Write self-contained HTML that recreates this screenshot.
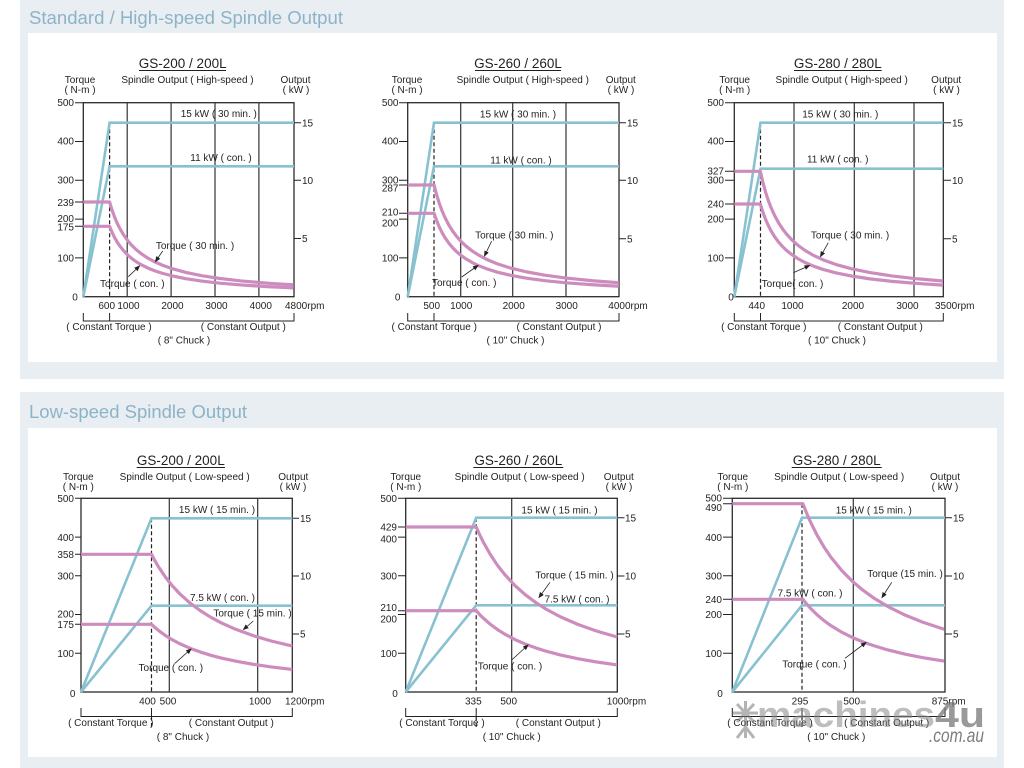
<!DOCTYPE html>
<html><head><meta charset="utf-8"><title>Spindle Output</title>
<style>
html,body{margin:0;padding:0;background:#fff;}
svg{display:block}
text{font-family:"Liberation Sans",Arial,sans-serif;font-size:10px;fill:#231f20}
.m{text-anchor:middle}.e{text-anchor:end}
.t{font-size:13.5px}
.hd{font-size:18.7px;fill:#8db3c8}
.fr{fill:none;stroke:#2b2b2b;stroke-width:1.3}
.gr{stroke:#333;stroke-width:1.2;fill:none}
.ds{stroke:#222;stroke-width:1.2;stroke-dasharray:4 2.5;fill:none}
.bl{stroke:#88c2d0;stroke-width:2.6;fill:none;stroke-linejoin:miter}
.pk{stroke:#cd8cbe;stroke-width:3.2;fill:none;vector-effect:non-scaling-stroke;stroke-linejoin:round}
.ar{stroke:#222;stroke-width:0.8;marker-end:url(#a)}
.tk{stroke:#222;stroke-width:1;fill:none}
.ul{stroke:#231f20;stroke-width:1}
</style></head><body>
<svg width="1024" height="768" viewBox="0 0 1024 768" xmlns="http://www.w3.org/2000/svg">
<defs>
<marker id="a" markerWidth="6" markerHeight="6" refX="5" refY="3" orient="auto" markerUnits="userSpaceOnUse"><path d="M0,0.6 L6,3 L0,5.4z" fill="#222"/></marker>
</defs>
<!-- panels -->
<rect x="20" y="0" width="984" height="379" fill="#e8eef2"/>
<rect x="28" y="33" width="969" height="329" fill="#fff"/>
<rect x="20" y="392" width="984" height="376" fill="#e8eef2"/>
<rect x="28" y="428" width="969" height="329" fill="#fff"/>
<text x="29" y="24" class="hd" textLength="314" lengthAdjust="spacingAndGlyphs">Standard / High-speed Spindle Output</text>
<text x="29" y="418" class="hd" textLength="218" lengthAdjust="spacingAndGlyphs">Low-speed Spindle Output</text>

<!-- ========== CHART 1 ========== -->
<g>
<rect x="83.3" y="102.7" width="210.7" height="194" class="fr"/>
<path class="gr" d="M127.2,102.7V296.7M171.1,102.7V296.7M215,102.7V296.7M258.9,102.7V296.7"/>
<path class="ds" d="M109.6,122.7V296.7"/>
<path class="tk" d="M75,102.7H83.3M75,141.5H83.3M75,180.3H83.3M75,202H83.3M75,219.1H83.3M75,226.3H83.3M75,257.9H83.3M294,122.7H301M294,180.3H301M294,238.5H301"/>
<polyline class="bl" points="83.3,296.7 109.6,122.7 294,122.7"/>
<polyline class="bl" points="83.3,296.7 109.6,166.3 294,166.3"/>
<path class="pk" transform="translate(83.3,296.7) scale(26.3,94.7)" d="M0,-1 L1,-1 L1.05,-0.9524 L1.1,-0.9091 L1.2,-0.8333 L1.3,-0.7692 L1.4,-0.7143 L1.55,-0.6452 L1.7,-0.5882 L1.85,-0.5405 L2,-0.5 L2.2,-0.4545 L2.45,-0.4082 L2.7,-0.3704 L3,-0.3333 L3.4,-0.2941 L3.9,-0.2564 L4.5,-0.2222 L5.2,-0.1923 L6,-0.1667 L7,-0.1429 L8,-0.125"/>
<path class="pk" transform="translate(83.3,296.7) scale(26.3,70.4)" d="M0,-1 L1,-1 L1.05,-0.9524 L1.1,-0.9091 L1.2,-0.8333 L1.3,-0.7692 L1.4,-0.7143 L1.55,-0.6452 L1.7,-0.5882 L1.85,-0.5405 L2,-0.5 L2.2,-0.4545 L2.45,-0.4082 L2.7,-0.3704 L3,-0.3333 L3.4,-0.2941 L3.9,-0.2564 L4.5,-0.2222 L5.2,-0.1923 L6,-0.1667 L7,-0.1429 L8,-0.125"/>
<line class="ar" x1="162.7" y1="251" x2="155.5" y2="261.5"/>
<line class="ar" x1="128.3" y1="276.7" x2="139.5" y2="266"/>
<path class="tk" d="M83.3,313V321H294V313M109.6,313V321"/>
<text x="182.7" y="68" class="t m">GS-200 / 200L</text>
<line class="ul" x1="139" y1="70.5" x2="226" y2="70.5"/>
<text x="80" y="83" class="m">Torque</text><text x="80" y="93" class="m">( N-m )</text>
<text x="187.5" y="83" class="m">Spindle Output ( High-speed )</text>
<text x="295.5" y="83" class="m">Output</text><text x="296" y="93" class="m">( kW )</text>
<text x="74" y="106" class="e">500</text><text x="74" y="144.5" class="e">400</text><text x="74" y="183.5" class="e">300</text><text x="74" y="206" class="e">239</text><text x="74" y="222" class="e">200</text><text x="74" y="230.5" class="e">175</text><text x="74" y="261.5" class="e">100</text><text x="75" y="300.5" class="m">0</text>
<text x="302" y="126.5">15</text><text x="302" y="184">10</text><text x="302" y="242">5</text>
<text x="218.8" y="117" class="m">15 kW ( 30 min. )</text>
<text x="221" y="161" class="m">11 kW ( con. )</text>
<text x="195" y="249" class="m">Torque ( 30 min. )</text>
<text x="132.3" y="287" class="m">Torque ( con. )</text>
<text x="106.7" y="309" class="m">600</text><text x="128.5" y="309" class="m">1000</text><text x="172.5" y="309" class="m">2000</text><text x="216.5" y="309" class="m">3000</text><text x="260.8" y="309" class="m">4000</text><text x="285" y="309">4800rpm</text>
<text x="109" y="330" class="m">( Constant Torque )</text>
<text x="243.3" y="330" class="m">( Constant Output )</text>
<text x="184" y="343.5" class="m">( 8" Chuck )</text>
</g>

<!-- ========== CHART 2 ========== -->
<g>
<rect x="407.7" y="102.7" width="211.3" height="194" class="fr"/>
<path class="gr" d="M460.7,102.7V296.7M512.7,102.7V296.7M566,102.7V296.7"/>
<path class="ds" d="M434,122.7V296.7"/>
<path class="tk" d="M399,102.7H407.7M399,141.5H407.7M399,180.3H407.7M399,185H407.7M399,213.3H407.7M399,219.1H407.7M399,257.9H407.7M619,122.7H626M619,180.3H626M619,238.7H626"/>
<polyline class="bl" points="407.7,296.7 434,122.7 619,122.7"/>
<polyline class="bl" points="407.7,296.7 434,166.3 619,166.3"/>
<path class="pk" transform="translate(407.7,296.7) scale(26.4,111.7)" d="M0,-1 L1,-1 L1.05,-0.9524 L1.1,-0.9091 L1.2,-0.8333 L1.3,-0.7692 L1.4,-0.7143 L1.55,-0.6452 L1.7,-0.5882 L1.85,-0.5405 L2,-0.5 L2.2,-0.4545 L2.45,-0.4082 L2.7,-0.3704 L3,-0.3333 L3.4,-0.2941 L3.9,-0.2564 L4.5,-0.2222 L5.2,-0.1923 L6,-0.1667 L7,-0.1429 L8,-0.125"/>
<path class="pk" transform="translate(407.7,296.7) scale(26.4,83.4)" d="M0,-1 L1,-1 L1.05,-0.9524 L1.1,-0.9091 L1.2,-0.8333 L1.3,-0.7692 L1.4,-0.7143 L1.55,-0.6452 L1.7,-0.5882 L1.85,-0.5405 L2,-0.5 L2.2,-0.4545 L2.45,-0.4082 L2.7,-0.3704 L3,-0.3333 L3.4,-0.2941 L3.9,-0.2564 L4.5,-0.2222 L5.2,-0.1923 L6,-0.1667 L7,-0.1429 L8,-0.125"/>
<line class="ar" x1="491.7" y1="241" x2="484.5" y2="256"/>
<line class="ar" x1="461.7" y1="277" x2="478" y2="265.5"/>
<path class="tk" d="M407.7,313V321H619V313M434,313V321"/>
<text x="518" y="68" class="t m">GS-260 / 260L</text>
<line class="ul" x1="475" y1="70.5" x2="561" y2="70.5"/>
<text x="407" y="83" class="m">Torque</text><text x="407" y="93" class="m">( N-m )</text>
<text x="522.8" y="83" class="m">Spindle Output ( High-speed )</text>
<text x="620.8" y="83" class="m">Output</text><text x="621" y="93" class="m">( kW )</text>
<text x="398.5" y="106" class="e">500</text><text x="398.5" y="144.5" class="e">400</text><text x="398.5" y="183.3" class="e">300</text><text x="398.5" y="191.5" class="e">287</text><text x="398.5" y="215.5" class="e">210</text><text x="398.5" y="226.5" class="e">200</text><text x="398.5" y="261.5" class="e">100</text><text x="397.7" y="300.5" class="m">0</text>
<text x="627" y="126.5">15</text><text x="627" y="184">10</text><text x="627" y="242.5">5</text>
<text x="518" y="117.3" class="m">15 kW ( 30 min. )</text>
<text x="521" y="163.3" class="m">11 kW ( con. )</text>
<text x="514.3" y="238.5" class="m">Torque ( 30 min. )</text>
<text x="464.2" y="286" class="m">Torque ( con. )</text>
<text x="431.7" y="309" class="m">500</text><text x="461.2" y="309" class="m">1000</text><text x="513.7" y="309" class="m">2000</text><text x="566.7" y="309" class="m">3000</text><text x="608.3" y="309">4000rpm</text>
<text x="434.2" y="330" class="m">( Constant Torque )</text>
<text x="559" y="330" class="m">( Constant Output )</text>
<text x="515.5" y="343.5" class="m">( 10" Chuck )</text>
</g>

<!-- ========== CHART 3 ========== -->
<g>
<rect x="734.3" y="102.7" width="209" height="194" class="fr"/>
<path class="gr" d="M794,102.7V296.7M854.3,102.7V296.7M914,102.7V296.7"/>
<path class="ds" d="M760.5,122.7V296.7"/>
<path class="tk" d="M725,102.7H734.3M725,141.5H734.3M725,171.3H734.3M725,180.3H734.3M725,204H734.3M725,219.1H734.3M725,257.9H734.3M943.3,122.7H951M943.3,180.3H951M943.3,238.7H951"/>
<polyline class="bl" points="734.3,296.7 760.5,122.7 943.3,122.7"/>
<polyline class="bl" points="734.3,296.7 760.5,168.7 943.3,168.7"/>
<path class="pk" transform="translate(734.3,296.7) scale(26.1,125.4)" d="M0,-1 L1,-1 L1.05,-0.9524 L1.1,-0.9091 L1.2,-0.8333 L1.3,-0.7692 L1.4,-0.7143 L1.55,-0.6452 L1.7,-0.5882 L1.85,-0.5405 L2,-0.5 L2.2,-0.4545 L2.45,-0.4082 L2.7,-0.3704 L3,-0.3333 L3.4,-0.2941 L3.9,-0.2564 L4.5,-0.2222 L5.2,-0.1923 L6,-0.1667 L7,-0.1429 L8,-0.125"/>
<path class="pk" transform="translate(734.3,296.7) scale(26.1,92.7)" d="M0,-1 L1,-1 L1.05,-0.9524 L1.1,-0.9091 L1.2,-0.8333 L1.3,-0.7692 L1.4,-0.7143 L1.55,-0.6452 L1.7,-0.5882 L1.85,-0.5405 L2,-0.5 L2.2,-0.4545 L2.45,-0.4082 L2.7,-0.3704 L3,-0.3333 L3.4,-0.2941 L3.9,-0.2564 L4.5,-0.2222 L5.2,-0.1923 L6,-0.1667 L7,-0.1429 L8,-0.125"/>
<line class="ar" x1="828.3" y1="242.7" x2="820.5" y2="256.5"/>
<line class="ar" x1="793.3" y1="272.7" x2="809.5" y2="265.5"/>
<path class="tk" d="M734.3,313V321H943.3V313M760.5,313V321"/>
<text x="837.8" y="68" class="t m">GS-280 / 280L</text>
<line class="ul" x1="794" y1="70.5" x2="881.7" y2="70.5"/>
<text x="734.7" y="83" class="m">Torque</text><text x="734.7" y="93" class="m">( N-m )</text>
<text x="841.7" y="83" class="m">Spindle Output ( High-speed )</text>
<text x="946.2" y="83" class="m">Output</text><text x="946.5" y="93" class="m">( kW )</text>
<text x="724" y="106" class="e">500</text><text x="724" y="144.5" class="e">400</text><text x="724" y="174.5" class="e">327</text><text x="724" y="183.3" class="e">300</text><text x="724" y="207.5" class="e">240</text><text x="724" y="222.5" class="e">200</text><text x="724" y="261.5" class="e">100</text><text x="731" y="300.5" class="m">0</text>
<text x="952" y="126.5">15</text><text x="952" y="184">10</text><text x="952" y="242.5">5</text>
<text x="840.3" y="117.3" class="m">15 kW ( 30 min. )</text>
<text x="837.7" y="162.5" class="m">11 kW ( con. )</text>
<text x="850" y="238.5" class="m">Torque ( 30 min. )</text>
<text x="792.5" y="287" class="m">Torque( con. )</text>
<text x="756.7" y="309" class="m">440</text><text x="792.5" y="309" class="m">1000</text><text x="853" y="309" class="m">2000</text><text x="907.5" y="309" class="m">3000</text><text x="935" y="309">3500rpm</text>
<text x="763.8" y="330" class="m">( Constant Torque )</text>
<text x="880.3" y="330" class="m">( Constant Output )</text>
<text x="837" y="343.5" class="m">( 10" Chuck )</text>
</g>

<!-- ========== CHART 4 ========== -->
<g>
<rect x="81" y="498.3" width="211.3" height="193.7" class="fr"/>
<path class="gr" d="M169.3,498.3V692M257.7,498.3V692"/>
<path class="ds" d="M151.5,518.3V692M151.5,716.5V729"/>
<path class="tk" d="M75,498.3H81M75,537.1H81M75,554.3H81M75,575.8H81M75,614.5H81M75,624.3H81M75,653.3H81M292.3,518.3H299M292.3,576H299M292.3,634H299"/>
<polyline class="bl" points="81,692 151.5,518.3 292.3,518.3"/>
<polyline class="bl" points="81,692 151.5,605.7 292.3,605.7"/>
<path class="pk" transform="translate(81,692) scale(70.45,137.7)" d="M0,-1 L1,-1 L1.05,-0.9524 L1.1,-0.9091 L1.2,-0.8333 L1.3,-0.7692 L1.4,-0.7143 L1.55,-0.6452 L1.7,-0.5882 L1.85,-0.5405 L2,-0.5 L2.2,-0.4545 L2.45,-0.4082 L2.7,-0.3704 L3,-0.3333"/>
<path class="pk" transform="translate(81,692) scale(70.45,67.7)" d="M0,-1 L1,-1 L1.05,-0.9524 L1.1,-0.9091 L1.2,-0.8333 L1.3,-0.7692 L1.4,-0.7143 L1.55,-0.6452 L1.7,-0.5882 L1.85,-0.5405 L2,-0.5 L2.2,-0.4545 L2.45,-0.4082 L2.7,-0.3704 L3,-0.3333"/>
<line class="ar" x1="253.3" y1="621" x2="243.5" y2="629.5"/>
<line class="ar" x1="175" y1="663.3" x2="191" y2="649"/>
<path class="tk" d="M81,708V716.5H292.3V708M151.5,708V716.5"/>
<text x="180.8" y="465" class="t m">GS-200 / 200L</text>
<line class="ul" x1="136.7" y1="467.5" x2="225" y2="467.5"/>
<text x="78.3" y="480" class="m">Torque</text><text x="78.3" y="490" class="m">( N-m )</text>
<text x="184.7" y="480" class="m">Spindle Output ( Low-speed )</text>
<text x="293.3" y="480" class="m">Output</text><text x="293" y="490" class="m">( kW )</text>
<text x="74" y="502" class="e">500</text><text x="74" y="540.8" class="e">400</text><text x="74" y="558" class="e">358</text><text x="74" y="579.5" class="e">300</text><text x="74" y="617.5" class="e">200</text><text x="74" y="627.8" class="e">175</text><text x="74" y="657" class="e">100</text><text x="72.7" y="697" class="m">0</text>
<text x="300" y="522">15</text><text x="300" y="579.7">10</text><text x="300" y="637.7">5</text>
<text x="217" y="513" class="m">15 kW ( 15 min. )</text>
<text x="222.5" y="601" class="m">7.5 kW ( con. )</text>
<text x="252.5" y="616.5" class="m">Torque ( 15 min. )</text>
<text x="170.8" y="671" class="m">Torque ( con. )</text>
<text x="147.5" y="704.5" class="m">400</text><text x="168" y="704.5" class="m">500</text><text x="260" y="704.5" class="m">1000</text><text x="285" y="704.5">1200rpm</text>
<text x="110.8" y="726" class="m">( Constant Torque )</text>
<text x="231.3" y="726" class="m">( Constant Output )</text>
<text x="183" y="740" class="m">( 8" Chuck )</text>
</g>

<!-- ========== CHART 5 ========== -->
<g>
<rect x="405.7" y="498.3" width="211.6" height="193.7" class="fr"/>
<path class="gr" d="M511.7,498.3V692"/>
<path class="ds" d="M476.2,517.7V692M476.2,716.5V729"/>
<path class="tk" d="M398,498.3H405.7M398,527H405.7M398,537.1H405.7M398,575.8H405.7M398,610.7H405.7M398,614.5H405.7M398,653.3H405.7M617.3,517.7H624.5M617.3,576H624.5M617.3,634H624.5"/>
<polyline class="bl" points="405.7,692 476.2,517.7 617.3,517.7"/>
<polyline class="bl" points="405.7,692 476.2,605.3 617.3,605.3"/>
<path class="pk" transform="translate(405.7,692) scale(70.5,165)" d="M0,-1 L1,-1 L1.05,-0.9524 L1.1,-0.9091 L1.2,-0.8333 L1.3,-0.7692 L1.4,-0.7143 L1.55,-0.6452 L1.7,-0.5882 L1.85,-0.5405 L2,-0.5 L2.2,-0.4545 L2.45,-0.4082 L2.7,-0.3704 L3,-0.3333"/>
<path class="pk" transform="translate(405.7,692) scale(70.5,81.3)" d="M0,-1 L1,-1 L1.05,-0.9524 L1.1,-0.9091 L1.2,-0.8333 L1.3,-0.7692 L1.4,-0.7143 L1.55,-0.6452 L1.7,-0.5882 L1.85,-0.5405 L2,-0.5 L2.2,-0.4545 L2.45,-0.4082 L2.7,-0.3704 L3,-0.3333"/>
<line class="ar" x1="550" y1="582.3" x2="539" y2="597.5"/>
<line class="ar" x1="511.7" y1="660" x2="528" y2="645"/>
<path class="tk" d="M405.7,708V716.5H617.3V708M476.2,708V716.5"/>
<text x="518.3" y="465" class="t m">GS-260 / 260L</text>
<line class="ul" x1="473.3" y1="467.5" x2="563.3" y2="467.5"/>
<text x="405.8" y="480" class="m">Torque</text><text x="405.8" y="490" class="m">( N-m )</text>
<text x="519.7" y="480" class="m">Spindle Output ( Low-speed )</text>
<text x="618.8" y="480" class="m">Output</text><text x="619" y="490" class="m">( kW )</text>
<text x="397" y="502" class="e">500</text><text x="397" y="530.5" class="e">429</text><text x="397" y="542.5" class="e">400</text><text x="397" y="579.5" class="e">300</text><text x="397" y="611" class="e">210</text><text x="397" y="622.5" class="e">200</text><text x="397" y="657" class="e">100</text><text x="395" y="697" class="m">0</text>
<text x="625" y="521.5">15</text><text x="625" y="579.7">10</text><text x="625" y="637.7">5</text>
<text x="559.5" y="513.3" class="m">15 kW ( 15 min. )</text>
<text x="574.5" y="578.5" class="m">Torque ( 15 min. )</text>
<text x="577" y="602.3" class="m">7.5 kW ( con. )</text>
<text x="510" y="669.5" class="m">Torque ( con. )</text>
<text x="473.3" y="704.5" class="m">335</text><text x="508.7" y="704.5" class="m">500</text><text x="606.7" y="704.5">1000rpm</text>
<text x="442" y="726" class="m">( Constant Torque )</text>
<text x="558.3" y="726" class="m">( Constant Output )</text>
<text x="511.7" y="740" class="m">( 10" Chuck )</text>
</g>

<!-- ========== CHART 6 ========== -->
<g>
<rect x="732.3" y="498.3" width="212.7" height="193.7" class="fr"/>
<path class="gr" d="M853.3,498.3V692"/>
<path class="ds" d="M802,503.7V692M802,716.5V729"/>
<path class="tk" d="M723,498.3H732.3M723,503.7H732.3M723,537.1H732.3M723,575.8H732.3M723,599.3H732.3M723,614.5H732.3M723,653.3H732.3M945,517.7H952M945,576H952M945,634H952"/>
<polyline class="bl" points="732.3,692 802,517.7 945,517.7"/>
<polyline class="bl" points="732.3,692 802,605.3 945,605.3"/>
<path class="pk" transform="translate(732.3,692) scale(70.6,188.3)" d="M0,-1 L1,-1 L1.05,-0.9524 L1.1,-0.9091 L1.2,-0.8333 L1.3,-0.7692 L1.4,-0.7143 L1.55,-0.6452 L1.7,-0.5882 L1.85,-0.5405 L2,-0.5 L2.2,-0.4545 L2.45,-0.4082 L2.7,-0.3704 L3,-0.3333"/>
<path class="pk" transform="translate(732.3,692) scale(70.6,92.7)" d="M0,-1 L1,-1 L1.05,-0.9524 L1.1,-0.9091 L1.2,-0.8333 L1.3,-0.7692 L1.4,-0.7143 L1.55,-0.6452 L1.7,-0.5882 L1.85,-0.5405 L2,-0.5 L2.2,-0.4545 L2.45,-0.4082 L2.7,-0.3704 L3,-0.3333"/>
<line class="ar" x1="891.7" y1="582.3" x2="882" y2="597.5"/>
<line class="ar" x1="845" y1="658.3" x2="866" y2="642.5"/>
<path class="tk" d="M732.3,708V716.5H945V708M802,708V716.5"/>
<text x="836.7" y="465" class="t m">GS-280 / 280L</text>
<line class="ul" x1="791.7" y1="467.5" x2="881.7" y2="467.5"/>
<text x="732.8" y="480" class="m">Torque</text><text x="732.8" y="490" class="m">( N-m )</text>
<text x="839.2" y="480" class="m">Spindle Output ( Low-speed )</text>
<text x="945" y="480" class="m">Output</text><text x="945" y="490" class="m">( kW )</text>
<text x="722" y="501.5" class="e">500</text><text x="722" y="511" class="e">490</text><text x="722" y="540.8" class="e">400</text><text x="722" y="579.5" class="e">300</text><text x="722" y="603" class="e">240</text><text x="722" y="618" class="e">200</text><text x="722" y="657" class="e">100</text><text x="720" y="697" class="m">0</text>
<text x="953" y="521.5">15</text><text x="953" y="579.7">10</text><text x="953" y="637.7">5</text>
<text x="873.8" y="513.3" class="m">15 kW ( 15 min. )</text>
<text x="905" y="577" class="m">Torque (15 min. )</text>
<text x="810" y="596.5" class="m">7.5 kW ( con. )</text>
<text x="814.5" y="667.5" class="m">Torque ( con. )</text>
<text x="800" y="704.5" class="m">295</text><text x="851.7" y="704.5" class="m">500</text><text x="931.7" y="704.5">875rpm</text>
<text x="770" y="726" class="m">( Constant Torque )</text>
<text x="886.7" y="726" class="m">( Constant Output )</text>
<text x="836.3" y="740" class="m">( 10" Chuck )</text>
</g>

<!-- watermark -->
<g opacity="0.55">
<path d="M733,713H758M745.5,701V725M737,704L754,722M754,704L737,722M737,738L745.5,727L754,738M745.5,727V738" stroke="#777" stroke-width="3" fill="none"/>
<text x="757" y="727" style="font-family:'Liberation Sans',Arial,sans-serif;font-size:36px;font-weight:bold;fill:#8a8a8a" textLength="178" lengthAdjust="spacingAndGlyphs">machines</text>
</g>
<text x="935" y="727" style="font-family:'Liberation Sans',Arial,sans-serif;font-size:36px;font-weight:bold;fill:#777;opacity:0.75" textLength="50" lengthAdjust="spacingAndGlyphs">4u</text>
<text x="929" y="742" style="font-family:'Liberation Sans',Arial,sans-serif;font-size:19px;font-style:italic;fill:#666;opacity:0.85" textLength="55" lengthAdjust="spacingAndGlyphs">.com.au</text>
</svg>
</body></html>
